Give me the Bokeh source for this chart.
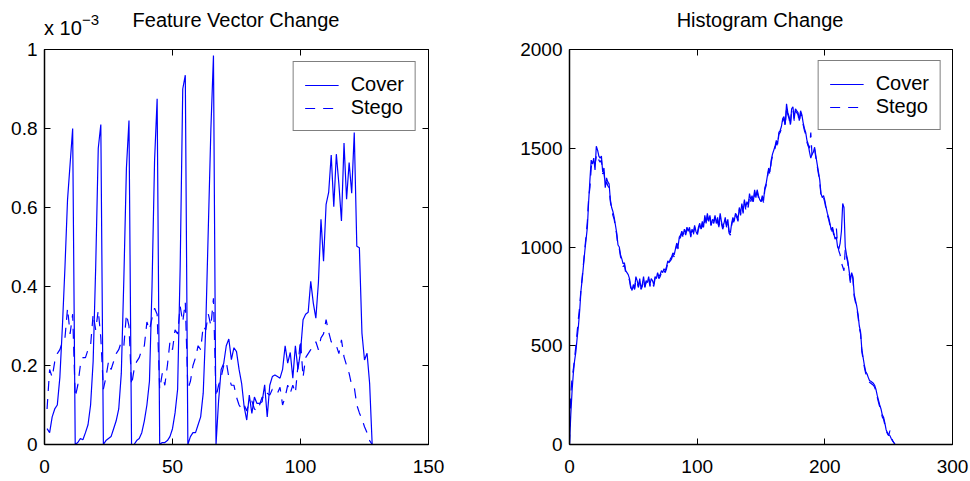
from bokeh.plotting import figure
from bokeh.layouts import row, column
from bokeh.models import Range1d, LinearAxis, FixedTicker, Div
from bokeh.embed import file_html
from bokeh.resources import INLINE

# ---------------- data ----------------
# Left panel: feature vector change (values in units of 1e-3)
fv_x = list(range(1, 129))
fv_cover = [
    0.04, 0.03, 0.07, 0.09, 0.10, 0.17, 0.30, 0.45, 0.62, 0.71, 0.80,
    0.0, 0.005, 0.015, 0.012, 0.03, 0.05, 0.10, 0.21, 0.45, 0.75, 0.81,
    0.0, 0.01, 0.015, 0.02, 0.04, 0.06, 0.09, 0.18, 0.42, 0.70, 0.82,
    0.0, 0.0, 0.01, 0.015, 0.03, 0.06, 0.10, 0.16, 0.40, 0.72, 0.875,
    0.0, 0.005, 0.005, 0.01, 0.02, 0.04, 0.08, 0.14, 0.45, 0.90, 0.935,
    0.0, 0.02, 0.03, 0.03, 0.05, 0.07, 0.13, 0.30, 0.55, 0.80, 0.985,
    0.0, 0.11, 0.19, 0.205, 0.25, 0.267, 0.215, 0.245, 0.235, 0.19,
    0.155, 0.095, 0.062, 0.125, 0.079, 0.12, 0.104, 0.104, 0.108, 0.151,
    0.07, 0.15, 0.172, 0.176, 0.172, 0.168, 0.19, 0.25, 0.206, 0.233,
    0.168, 0.25, 0.19, 0.235, 0.316, 0.33, 0.335, 0.413, 0.358, 0.32,
    0.41, 0.57, 0.464, 0.608, 0.638, 0.733, 0.602, 0.735, 0.659, 0.566,
    0.763, 0.621, 0.714, 0.636, 0.79, 0.502, 0.498, 0.282, 0.214, 0.231,
    0.155, 0.0,
]
fv_stego = [
    0.09, 0.19, 0.17, 0.21, 0.23, 0.24, 0.26, 0.27, 0.345, 0.28, 0.33,
    0.12, 0.15, 0.20, 0.22, 0.22, 0.24, 0.25, 0.33, 0.29, 0.34, 0.27,
    0.14, 0.17, 0.21, 0.19, 0.21, 0.23, 0.24, 0.26, 0.25, 0.33, 0.30,
    0.15, 0.19, 0.21, 0.22, 0.24, 0.25, 0.31, 0.29, 0.32, 0.345, 0.33,
    0.14, 0.18, 0.15, 0.20, 0.26, 0.24, 0.29, 0.28, 0.35, 0.31, 0.36,
    0.14, 0.16, 0.20, 0.22, 0.25, 0.24, 0.30, 0.29, 0.33, 0.30, 0.37,
    0.12, 0.15, 0.17, 0.20, 0.21, 0.17, 0.15, 0.15, 0.12, 0.10,
    0.09, 0.10, 0.085, 0.11, 0.11, 0.09, 0.085, 0.10, 0.12, 0.115,
    0.13, 0.125, 0.14, 0.14, 0.13, 0.145, 0.10, 0.12, 0.15, 0.13,
    0.15, 0.13, 0.20, 0.265, 0.17, 0.22, 0.23, 0.24, 0.25, 0.26,
    0.24, 0.27, 0.28, 0.316, 0.285, 0.26, 0.26, 0.25, 0.23, 0.265,
    0.222, 0.20, 0.18, 0.15, 0.145, 0.10, 0.08, 0.065, 0.045, 0.03,
    0.01, 0.0,
]

# Right panel: histogram change (grey levels 0..255)
hist_x = list(range(0, 256))
hist_cover = [
    0, 150, 270, 360, 425, 470, 540, 600, 680, 780,
    840, 910, 980, 1040, 1100, 1230, 1340, 1440, 1420, 1450,
    1390, 1510, 1490, 1460, 1450, 1460, 1380, 1400, 1300, 1350,
    1330, 1320, 1240, 1200, 1180, 1150, 1110, 1070, 1010, 1000,
    960, 940, 915, 920, 880, 870, 860, 840, 800, 780,
    810, 790, 850, 830, 800, 840, 790, 810, 850, 800,
    830, 820, 850, 810, 840, 830, 810, 850, 840, 870,
    850, 860, 880, 870, 890, 880, 900, 930, 920, 940,
    950, 970, 960, 990, 1020, 1000, 1050, 1060, 1080, 1060,
    1090, 1070, 1100, 1080, 1100, 1060, 1090, 1070, 1110, 1080,
    1065, 1100, 1120, 1090, 1130, 1100, 1160, 1120, 1170, 1130,
    1160, 1110, 1140, 1130, 1160, 1120, 1150, 1100, 1170, 1130,
    1100, 1120, 1150, 1110, 1140, 1080, 1070, 1120, 1150, 1130,
    1170, 1160, 1140, 1200, 1170, 1220, 1180, 1240, 1200, 1230,
    1210, 1270, 1240, 1260, 1230, 1290, 1250, 1290, 1260, 1240,
    1230, 1260, 1235, 1300, 1320, 1360, 1400, 1380, 1440, 1470,
    1490, 1510, 1540, 1520, 1580, 1590, 1610, 1650, 1660, 1620,
    1725, 1680, 1660, 1620, 1700, 1710, 1650, 1700, 1690, 1680,
    1640, 1690, 1670, 1630, 1600, 1580, 1540, 1520, 1480, 1450,
    1470, 1480, 1505, 1460, 1420, 1380, 1340, 1270, 1250, 1260,
    1235, 1200, 1170, 1150, 1120, 1085, 1100, 1070, 1040, 1050,
    1000, 990, 1020, 1080, 1220, 1200, 1000, 960, 930, 880,
    830, 870, 850, 760, 730, 700, 660, 600, 570, 480,
    440, 400, 370, 358, 340, 324, 320, 315, 310, 300,
    280, 250, 225, 200, 180, 150, 138, 110, 75, 60,
    50, 45, 30, 20, 10, 0,
]
hist_stego = [
    0, 250, 340, 380, 440, 500, 570, 640, 700, 790,
    850, 920, 990, 1060, 1130, 1250, 1300, 1400, 1440, 1430,
    1420, 1460, 1470, 1440, 1430, 1440, 1370, 1380, 1310, 1330,
    1310, 1300, 1230, 1190, 1160, 1140, 1100, 1060, 1000, 990,
    950, 930, 900, 910, 870, 860, 850, 830, 790, 775,
    800, 785, 835, 820, 795, 830, 785, 800, 840, 795,
    820, 810, 840, 800, 830, 820, 800, 840, 830, 860,
    840, 850, 870, 860, 880, 870, 890, 920, 910, 930,
    940, 960, 950, 980, 1010, 990, 1040, 1050, 1070, 1050,
    1080, 1060, 1090, 1070, 1090, 1050, 1080, 1060, 1100, 1070,
    1055, 1090, 1110, 1080, 1120, 1090, 1150, 1110, 1160, 1120,
    1150, 1100, 1130, 1120, 1150, 1110, 1140, 1090, 1160, 1120,
    1090, 1110, 1140, 1100, 1130, 1070, 1060, 1110, 1140, 1120,
    1160, 1150, 1130, 1190, 1160, 1210, 1170, 1230, 1190, 1220,
    1200, 1260, 1230, 1250, 1220, 1280, 1240, 1280, 1250, 1230,
    1220, 1250, 1225, 1290, 1310, 1350, 1390, 1370, 1430, 1460,
    1480, 1500, 1530, 1510, 1570, 1580, 1600, 1640, 1650, 1610,
    1710, 1670, 1650, 1610, 1690, 1700, 1640, 1690, 1680, 1670,
    1630, 1680, 1660, 1620, 1590, 1570, 1530, 1510, 1500, 1580,
    1460, 1470, 1495, 1450, 1410, 1370, 1330, 1260, 1240, 1250,
    1225, 1190, 1160, 1140, 1110, 1075, 1090, 1060, 1080, 1100,
    1010, 980, 960, 920, 900, 880, 990, 950, 920, 870,
    820, 860, 840, 750, 720, 690, 650, 590, 560, 470,
    430, 390, 360, 350, 330, 315, 310, 305, 300, 290,
    270, 240, 215, 190, 170, 140, 128, 100, 70, 55,
    45, 70, 40, 20, 10, 0,
]

left_title = "Feature Vector Change"
right_title = "Histogram Change"
scale_base = "x 10"
scale_exp = "\u22123"
series_names = ["Cover", "Stego"]
left_xticks = [0, 50, 100, 150]
left_yticks = [0, 0.2, 0.4, 0.6, 0.8, 1.0]
right_xticks = [0, 100, 200, 300]
right_yticks = [0, 500, 1000, 1500, 2000]

# ---------------- style ----------------
FONT = "Liberation Sans"
TICK_FS = "19px"
FS = "20px"
BLUE = "#0000ff"
DASH = "10 8"
HEAD_H = 36          # header strip holding titles
TOP_PAD = 13         # figure border above the frame (frame top at page y 49)
FIG_H = 445          # frame spans page y 49..444


def mirror_axis(ticks):
    # tick-only axis for the top / right frame edges (labels not drawn)
    return LinearAxis(ticker=FixedTicker(ticks=ticks), major_tick_in=6, major_tick_out=0,
                      minor_tick_line_color=None, major_label_text_font_size="1px",
                      major_label_text_color=None, major_label_standoff=0,
                      axis_line_color="black", axis_line_width=1)


def style_axes(p, xticks, yticks, overrides=None):
    for ax in p.xaxis + p.yaxis:
        ax.major_tick_in = 6
        ax.major_tick_out = 0
        ax.minor_tick_line_color = None
        ax.axis_line_color = "black"
        ax.major_tick_line_color = "black"
        ax.axis_line_width = 1.5
        ax.major_label_text_color = "black"
        ax.major_label_text_font = FONT
        ax.major_label_text_font_size = TICK_FS
    p.xaxis[0].ticker = FixedTicker(ticks=xticks)
    p.yaxis[0].ticker = FixedTicker(ticks=yticks)
    p.xaxis[0].major_label_standoff = 15
    p.yaxis[0].major_label_standoff = 7
    if overrides:
        p.yaxis[0].major_label_overrides = overrides
    p.add_layout(mirror_axis(xticks), "above")
    p.add_layout(mirror_axis(yticks), "right")
    p.xgrid.grid_line_color = None
    p.ygrid.grid_line_color = None
    p.outline_line_color = "black"


def style_legend(p, margin):
    lg = p.legend[0]
    lg.location = "top_right"
    lg.margin = margin
    lg.padding = 11
    lg.spacing = 0
    lg.glyph_width = 34
    lg.glyph_height = 20
    lg.label_standoff = 12
    lg.label_height = 22
    lg.label_text_font = FONT
    lg.label_text_font_size = FS
    lg.label_text_color = "black"
    lg.border_line_color = "black"
    lg.border_line_width = 1
    lg.background_fill_color = "white"
    lg.background_fill_alpha = 1


# ---------------- left figure ----------------
p1 = figure(width=470, height=FIG_H, output_backend="svg", toolbar_location=None,
            x_range=Range1d(0, 150), y_range=Range1d(0, 1),
            min_border_left=44, min_border_right=42, min_border_top=TOP_PAD,
            min_border_bottom=37)
p1.line(fv_x, fv_cover, line_color=BLUE, line_width=1.2, legend_label=series_names[0])
p1.line(fv_x, fv_stego, line_color=BLUE, line_width=1.2, line_dash=DASH,
        legend_label=series_names[1])
style_axes(p1, left_xticks, left_yticks, overrides={0: "0", 1: "1"})
style_legend(p1, 12)

# ---------------- right figure ----------------
p2 = figure(width=500, height=FIG_H, output_backend="svg", toolbar_location=None,
            x_range=Range1d(0, 300), y_range=Range1d(0, 2000),
            min_border_left=99, min_border_right=18, min_border_top=TOP_PAD,
            min_border_bottom=37)
p2.line(hist_x, hist_cover, line_color=BLUE, line_width=1.2, legend_label=series_names[0])
p2.line(hist_x, hist_stego, line_color=BLUE, line_width=1.2, line_dash=DASH,
        legend_label=series_names[1])
style_axes(p2, right_xticks, right_yticks)
style_legend(p2, 11)

# ---------------- header with titles ----------------
span = ("position:absolute;white-space:nowrap;color:#000;"
        "font-family:'Liberation Sans',sans-serif;")
header_html = (
    f'<div style="position:relative;width:970px;height:{HEAD_H}px;margin:0;padding:0;">'
    f'<span style="{span}font-size:20px;line-height:20px;left:236px;top:10px;'
    f'transform:translateX(-50%);">{left_title}</span>'
    f'<span style="{span}font-size:20px;line-height:20px;left:760px;top:10px;'
    f'transform:translateX(-50%);">{right_title}</span>'
    f'<span style="{span}font-size:20px;line-height:16px;left:44px;top:20px;">'
    f'{scale_base}</span>'
    f'<span style="{span}font-size:15px;line-height:15px;left:82px;top:12px;">'
    f'{scale_exp}</span>'
    '</div>'
)
header = Div(text=header_html, width=970, height=HEAD_H, margin=0)

layout = column(header, row(p1, p2), spacing=0)
open("out.html", "w").write(file_html(layout, INLINE))
